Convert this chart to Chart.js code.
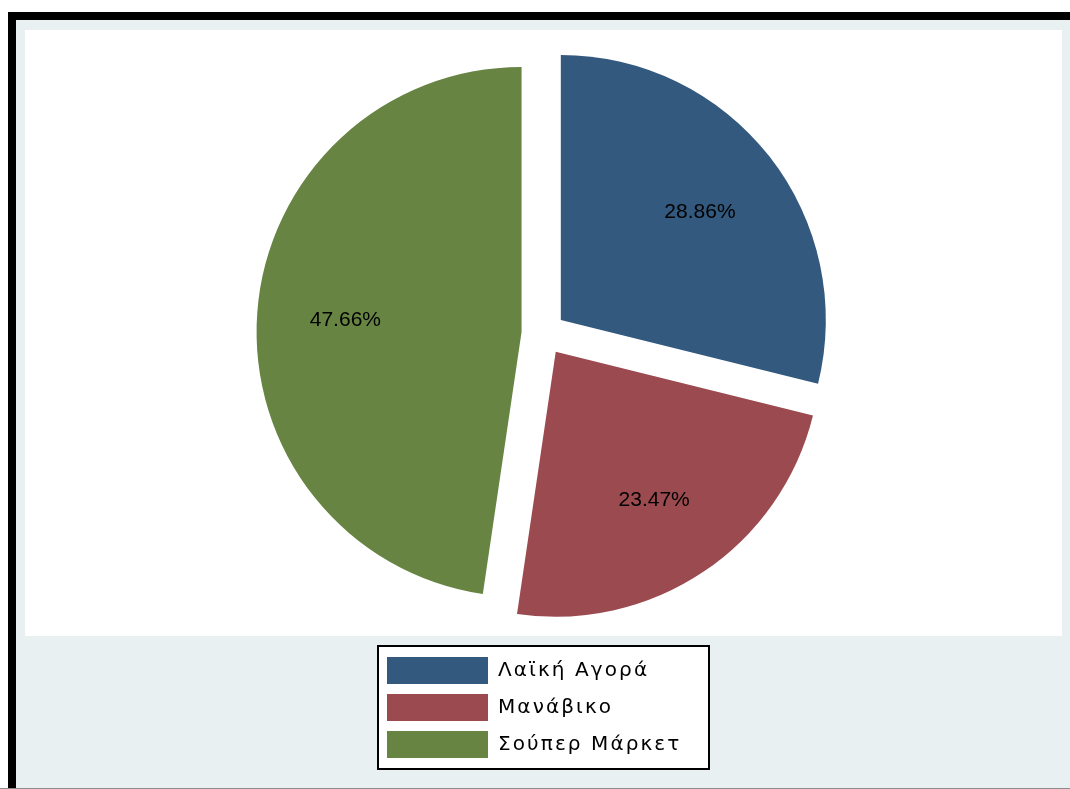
<!DOCTYPE html>
<html><head><meta charset="utf-8">
<script src="https://cdn.jsdelivr.net/npm/chart.js@4/dist/chart.umd.min.js"></script>
<style>
html,body{margin:0;padding:0;background:#fff;width:1070px;height:789px;overflow:hidden;}
#frame{position:absolute;left:8px;top:12px;width:1100px;height:800px;border-top:8px solid #000;border-left:8px solid #000;background:#e8f0f2;}
#plot{position:absolute;left:25px;top:30px;width:1037px;height:606px;background:#fff;}
#legbox{position:absolute;left:377px;top:645px;width:333px;height:125px;box-sizing:border-box;border:2px solid #000;background:#fff;}
#bottomline{position:absolute;left:0;top:788px;width:1070px;height:1px;background:#8c8c8c;}
canvas{position:absolute;left:0;top:0;}
</style></head><body>
<div id="frame"></div>
<div id="plot"></div>
<div id="legbox"></div>
<div id="bottomline"></div>
<canvas id="c" width="1070" height="789"></canvas>
<script>
const categories = ['Λαϊκή Αγορά', 'Μανάβικο', 'Σούπερ Μάρκετ'];
const shares = [28.86, 23.47, 47.66];
const sliceColors = ['#33597e', '#9b4a4f', '#678443'];
const EXPLODE = 22;
const FONT = '"Liberation Sans", Arial, sans-serif';
const LEGEND_FONT = '"DejaVu Sans", sans-serif';

const explodePlugin = {
  id: 'explode',
  afterLayout(chart) {
    const lg = chart.legend;
    if (!lg) return;
    lg.left = 377; lg.top = 647; lg.width = 330; lg.height = 140;
    lg.right = lg.left + lg.width; lg.bottom = lg.top + lg.height;
  },
  beforeDraw(chart) {
    chart.ctx.letterSpacing = '2.1px';
  },
  beforeDatasetsDraw(chart) {
    chart.ctx.letterSpacing = '0px';
  },
  beforeDatasetDraw(chart, args) {
    const ctx = chart.ctx;
    args.meta.data.forEach(arc => {
      const h = (arc.startAngle + arc.endAngle) / 2;
      ctx.save();
      ctx.translate(Math.cos(h) * EXPLODE, Math.sin(h) * EXPLODE);
      arc.draw(ctx);
      ctx.restore();
    });
    return false;
  },
  afterDatasetsDraw(chart) {
    const ctx = chart.ctx;
    const meta = chart.getDatasetMeta(0);
    ctx.save();
    ctx.letterSpacing = '0px';
    ctx.font = '21px ' + FONT;
    ctx.fillStyle = '#000';
    ctx.textAlign = 'center';
    ctx.textBaseline = 'middle';
    meta.data.forEach((arc, i) => {
      const h = (arc.startAngle + arc.endAngle) / 2;
      const d = EXPLODE + arc.outerRadius * 2 / 3;
      ctx.fillText(shares[i].toFixed(2) + '%', arc.x + Math.cos(h) * d, arc.y + Math.sin(h) * d + 1.5);
    });
    ctx.restore();
  }
};

new Chart(document.getElementById('c'), {
  type: 'pie',
  data: {
    labels: categories,
    datasets: [{
      data: shares,
      backgroundColor: sliceColors,
      borderWidth: 0
    }]
  },
  options: {
    responsive: false,
    animation: false,
    radius: 265,
    layout: { padding: { left: 27, right: 10, top: 31, bottom: 153 } },
    plugins: {
      tooltip: { enabled: false },
      legend: {
        position: 'chartArea',
        align: 'start',
        labels: {
          boxWidth: 101,
          boxHeight: 27,
          padding: 10,
          color: '#000',
          textAlign: 'left',
          font: { size: 20, family: LEGEND_FONT }
        }
      }
    }
  },
  plugins: [explodePlugin]
});
</script>
</body></html>
